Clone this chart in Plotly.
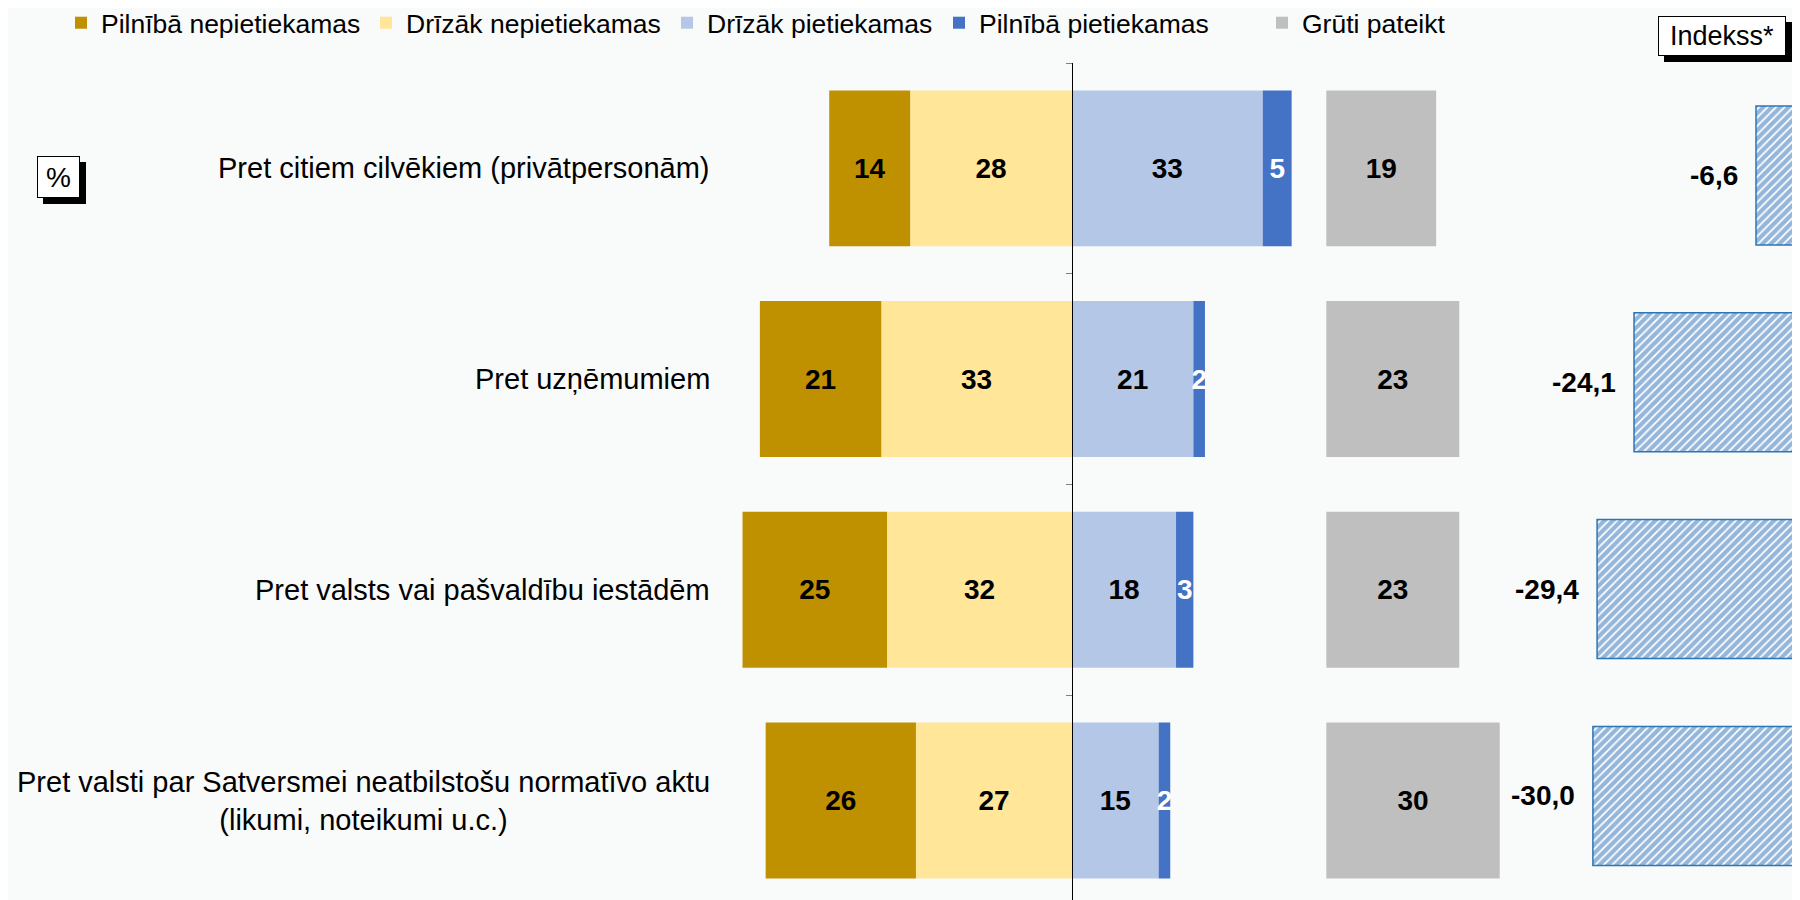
import plotly.graph_objects as go

# kategorijas (no augšas uz leju)
categories = ["Pret citiem cilvēkiem (privātpersonām)",
              "Pret uzņēmumiem",
              "Pret valsts vai pašvaldību iestādēm",
              "Pret valsti par Satversmei neatbilstošu normatīvo aktu<br>(likumi, noteikumi u.c.)"]

pilniba_nepiet = [14, 21, 25, 26]
drizak_nepiet = [28, 33, 32, 27]
drizak_piet = [33, 21, 18, 15]
pilniba_piet = [5, 2, 3, 2]
gruti = [19, 23, 23, 30]
indekss = [-6.6, -24.1, -29.4, -30.0]

W, H = 1800, 900
OFF = 8   # lapas body atkāpe
BG = "#F9FAFA"
FONT = "Liberation Sans, Arial, sans-serif"

def px(x):
    return (x - OFF) / W

def py(y):
    return 1 - (y - OFF) / H

zero_px = 1072
gray_base = 44   # kur sākas "Grūti pateikt" stabiņi

fig = go.Figure()

def seg(name, vals, color, txtcolor, sign, legend):
    return go.Bar(y=categories, x=[sign * v for v in vals], text=[str(v) for v in vals],
                  name=name, orientation="h", width=0.74,
                  marker=dict(color=color, line=dict(width=0)),
                  textposition="inside", insidetextanchor="middle", textangle=0,
                  constraintext="none",
                  textfont=dict(family=FONT, size=28, color=txtcolor, weight="bold"),
                  legend=legend, xaxis="x", yaxis="y")

# negatīvie: pirmais pievienotais ir tuvāk nullei
fig.add_trace(seg("Drīzāk nepietiekamas", drizak_nepiet, "#FFE699", "black", -1, "legend2"))
fig.add_trace(seg("Pilnībā nepietiekamas", pilniba_nepiet, "#BF9000", "black", -1, "legend"))
fig.add_trace(seg("Drīzāk pietiekamas", drizak_piet, "#B4C7E7", "black", 1, "legend3"))
fig.add_trace(seg("Pilnībā pietiekamas", pilniba_piet, "#4472C4", "white", 1, "legend4"))

fig.add_trace(go.Bar(y=categories, x=gruti, base=gray_base, text=[str(v) for v in gruti],
                     name="Grūti pateikt", orientation="h", width=0.74,
                     marker=dict(color="#BFBFBF", line=dict(width=0)),
                     textposition="inside", insidetextanchor="middle", textangle=0,
                     constraintext="none",
                     textfont=dict(family=FONT, size=28, color="black", weight="bold"),
                     legend="legend5", xaxis="x3", yaxis="y"))

# indekss - savs y ass solis
fig.add_trace(go.Bar(y=categories, x=indekss, orientation="h", width=0.672,
                     marker=dict(color="white", line=dict(color="#2E75B6", width=1.5),
                                 pattern=dict(shape="/", fgcolor="#2A6DB5", bgcolor="white",
                                              size=6, solidity=0.7)),
                     showlegend=False, xaxis="x2", yaxis="y2"))

x_lo, x_hi = 700, 1520
scale = 5.78
xr = [-(zero_px - x_lo) / scale, (x_hi - zero_px) / scale]
idx_lo = 1540
idx_zero = 1802
idx_scale = 6.97
idx_c0, idx_band = 175.5 - OFF, 206.8
fig.update_layout(
    width=W, height=H,
    margin=dict(l=0, r=0, t=0, b=0, autoexpand=False),
    paper_bgcolor=BG, plot_bgcolor=BG,
    barmode="relative",
    font=dict(family=FONT, size=28, color="black"),
    xaxis=dict(domain=[px(x_lo), px(x_hi)], range=xr, visible=False),
    xaxis3=dict(overlaying="x", range=xr, visible=False),
    xaxis2=dict(domain=[px(idx_lo), 1], anchor="y2",
                range=[-(idx_zero - idx_lo) / idx_scale, (W + OFF - idx_zero) / idx_scale],
                visible=False),
    yaxis=dict(categoryorder="array", categoryarray=categories,
               range=[3.51, -0.5], domain=[0, py(63)],
               anchor="free", position=px(zero_px),
               showline=True, linecolor="black", linewidth=1,
               ticks="outside", ticklen=6, tickcolor="#808080", tickson="boundaries",
               showticklabels=False, showgrid=False, zeroline=False),
    yaxis2=dict(categoryorder="array", categoryarray=categories, anchor="x2",
                domain=[0, 1], range=[(H - idx_c0) / idx_band, -idx_c0 / idx_band],
                visible=False),
)

# leģendas (teksta sākums ekrānā)
leg_x = {"legend": 101, "legend2": 406, "legend3": 707, "legend4": 979, "legend5": 1302}
for k, tx in leg_x.items():
    fig.update_layout({k: dict(x=(tx - OFF - 40) / W, xanchor="left", y=py(23), yanchor="middle",
                               orientation="h", bgcolor="rgba(0,0,0,0)",
                               font=dict(family=FONT, size=26.5, color="black"))})

ann = []
for c in categories:
    ann.append(dict(x=px(712), xref="paper", y=c, yref="y", text=c, showarrow=False,
                    xanchor="right", align="center", font=dict(size=29)))
for c, v in zip(categories, indekss):
    ann.append(dict(x=v, xref="x2", y=c, yref="y2", text=f"{v:.1f}".replace(".", ","),
                    showarrow=False, xanchor="right", xshift=-16,
                    font=dict(size=28, weight="bold")))

# rāmji ar ēnu
boxes = [("%", 37, 156, 80, 198, 28), ("Indekss*", 1658, 16, 1786, 56, 27)]
shapes = []
for txt, x0, y0, x1, y1, sz in boxes:
    shapes.append(dict(type="rect", xref="paper", yref="paper",
                       x0=px(x0 + 6), x1=px(x1 + 6), y0=py(y1 + 6), y1=py(y0 + 6),
                       fillcolor="black", line=dict(width=0), layer="above"))
    ann.append(dict(x=px((x0 + x1) / 2), y=py((y0 + y1) / 2), xref="paper", yref="paper",
                    text=txt, showarrow=False, xanchor="center", yanchor="middle",
                    width=x1 - x0 - 2, height=y1 - y0 - 2, bgcolor="white",
                    bordercolor="black", borderwidth=1, borderpad=0,
                    font=dict(size=sz)))

fig.update_layout(annotations=ann, shapes=shapes)

fig.write_html("out.html")
